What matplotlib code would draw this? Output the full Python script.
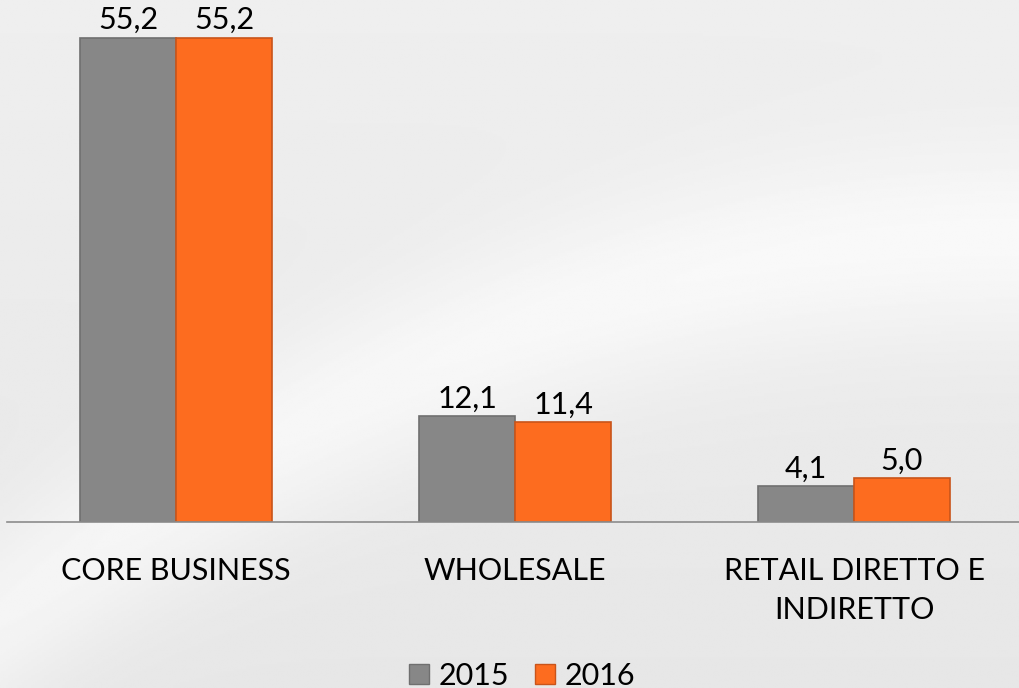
import matplotlib.pyplot as plt
import matplotlib.patches as pat
import numpy as np

categories = ['CORE BUSINESS', 'WHOLESALE', 'RETAIL DIRETTO E\nINDIRETTO']
values_2015 = [55.2, 12.1, 4.1]
values_2016 = [55.2, 11.4, 5.0]
series_names = ['2015', '2016']

GRAY = '#878787'
GRAY_EDGE = '#6f6f6f'
ORANGE = '#fd6c1f'
ORANGE_EDGE = '#c9541a'
FONT = 'Lato'
FS = 22

fig = plt.figure(figsize=(10.19, 6.88), dpi=100)

# soft grey background with a lighter swoosh
bg = fig.add_axes([0, 0, 1, 1], zorder=0)
yy, xx = np.mgrid[0:1:300j, 0:1:450j]
base = 0.905 + 0.03 * (1 - yy)
swoosh = np.exp(-((yy - (0.35 + 0.55 * (1 - xx) ** 2)) ** 2) / 0.02)
img = np.clip(base + 0.05 * swoosh, 0, 1)
bg.imshow(img, cmap='gray', vmin=0, vmax=1, extent=[0, 1, 0, 1], aspect='auto')
bg.axis('off')

ax = fig.add_axes([6.5 / 1019, (688 - 522) / 688, 1017 / 1019, 522 / 688], zorder=1)
ax.patch.set_alpha(0)

x = np.arange(len(categories))
w = 96 / 339
b1 = ax.bar(x - w / 2, values_2015, w, color=GRAY, edgecolor=GRAY_EDGE, linewidth=1.2)
b2 = ax.bar(x + w / 2, values_2016, w, color=ORANGE, edgecolor=ORANGE_EDGE, linewidth=1.2)

for bars, vals in [(b1, values_2015), (b2, values_2016)]:
    for r, v in zip(bars, vals):
        ax.text(r.get_x() + r.get_width() / 2, v + 0.4, f'{v:.1f}'.replace('.', ','),
                ha='center', va='bottom', fontsize=FS, family=FONT, color='black')

ax.set_xlim(-0.5, 2.5)
ax.set_ylim(0, 59.5)
ax.set_yticks([])
ax.set_xticks(x)
ax.set_xticklabels(categories, fontsize=FS, family=FONT, linespacing=1.5)
ax.tick_params(axis='x', length=0, pad=25)
for s in ['top', 'right', 'left']:
    ax.spines[s].set_visible(False)
ax.spines['bottom'].set_color('#8c8c8c')
ax.spines['bottom'].set_linewidth(1.2)

h1 = pat.Rectangle((0, 0), 1, 1, facecolor=GRAY, edgecolor=GRAY_EDGE)
h2 = pat.Rectangle((0, 0), 1, 1, facecolor=ORANGE, edgecolor=ORANGE_EDGE)
fig.legend([h1, h2], series_names, loc='center', bbox_to_anchor=(522 / 1019, 1 - 676 / 688),
           ncol=2, frameon=False, prop={'family': FONT, 'size': FS},
           handlelength=0.65, handleheight=0.65, handletextpad=0.32, columnspacing=0.84,
           borderpad=0.1)

fig.savefig('out.png', dpi=100)
